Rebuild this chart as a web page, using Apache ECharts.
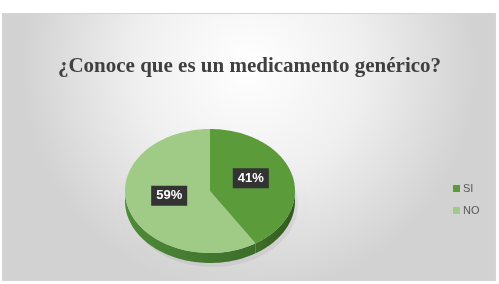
<!DOCTYPE html>
<html><head><meta charset="utf-8">
<script src="https://cdn.jsdelivr.net/npm/echarts@6/dist/echarts.min.js"></script>
<style>html,body{margin:0;padding:0;background:#fff}#c{width:499px;height:284px}</style>
</head><body><div id="c"></div>
<script>
var titleText = '¿Conoce que es un medicamento genérico?';
var categories = ['SI', 'NO'];
var values = [41, 59];
var labels = ['41%', '59%'];
var topColors = ['#5b9b3a', '#9fcb87'];
var sideColors = [['#3f6f28', '#2f5a1c'], ['#4f8a38', '#3c6d2a']];

var chart = echarts.init(document.getElementById('c'), null, {renderer: 'canvas'});
var total = values.reduce(function (a, b) { return a + b; }, 0);
var CX = 210, CY = 191, RX = 85, RY = 62, TH = 10;

function pt(a, dy) { return [CX + RX * Math.cos(a), CY + RY * Math.sin(a) + (dy || 0)]; }

function makeRender(idx) {
  return function (params, api) {
    var before = api.value(0), v = api.value(1);
    var a0 = -Math.PI / 2 + before / total * Math.PI * 2;
    var a1 = a0 + v / total * Math.PI * 2;
    var children = [];
    var s0 = Math.max(a0, 0), s1 = Math.min(a1, Math.PI);
    var ranges = [];
    if (s1 > s0) ranges.push([s0, s1]);
    var s2 = Math.max(a0, 2 * Math.PI), s3 = Math.min(a1, 3 * Math.PI);
    if (s3 > s2) ranges.push([s2, s3]);
    ranges.forEach(function (r) {
      var pts = [], n = 60, i;
      for (i = 0; i <= n; i++) pts.push(pt(r[0] + (r[1] - r[0]) * i / n, 0));
      for (i = n; i >= 0; i--) pts.push(pt(r[0] + (r[1] - r[0]) * i / n, TH));
      children.push({
        type: 'polygon', shape: {points: pts},
        style: {fill: new echarts.graphic.LinearGradient(0, 0, 1, 0, [
          {offset: 0, color: sideColors[idx][0]}, {offset: 1, color: sideColors[idx][1]}]), stroke: null}
      });
    });
    var top = [[CX, CY]], n2 = 120;
    for (var j = 0; j <= n2; j++) top.push(pt(a0 + (a1 - a0) * j / n2, 0));
    children.push({type: 'polygon', shape: {points: top}, style: {fill: topColors[idx], stroke: null}});
    var mid = (a0 + a1) / 2;
    var lp = [CX + RX * 0.5 * Math.cos(mid), CY + RY * 0.5 * Math.sin(mid) - 4];
    children.push({
      type: 'text', z2: 10,
      style: {
        text: labels[idx], x: lp[0], y: lp[1], align: 'center', verticalAlign: 'middle',
        fill: '#ffffff', font: 'bold 13px "Liberation Sans", sans-serif',
        backgroundColor: '#333333', padding: [4, 5, 3, 5]
      }
    });
    return {type: 'group', children: children};
  };
}

var series = categories.map(function (name, i) {
  var before = 0;
  for (var k = 0; k < i; k++) before += values[k];
  return {
    type: 'custom', name: name, coordinateSystem: 'none',
    itemStyle: {color: topColors[i]},
    data: [[before, values[i]]],
    renderItem: makeRender(i), z: i === 0 ? 3 : 2
  };
});

chart.setOption({
  backgroundColor: '#ffffff',
  animation: false,
  graphic: [
    {type: 'rect', z: -10, shape: {x: 2.5, y: 13.5, width: 493, height: 267},
     style: {fill: new echarts.graphic.RadialGradient(0.5, 0.2, 0.85, [
       {offset: 0, color: '#ffffff'}, {offset: 0.5, color: '#efefef'}, {offset: 1, color: '#d2d2d2'}]),
       stroke: '#d4d4d4', lineWidth: 1}},
    {type: 'ellipse', z: -5, shape: {cx: CX + 3, cy: CY + TH + 4, rx: RX, ry: RY},
     style: {fill: 'rgba(0,0,0,0.05)', shadowBlur: 8, shadowColor: 'rgba(0,0,0,0.12)'}}
  ],
  title: {
    text: titleText, left: 'center', top: 51,
    textStyle: {fontFamily: '"Liberation Serif", serif', fontWeight: 'bold', fontSize: 21, color: '#404040'}
  },
  legend: {
    orient: 'vertical', left: 448, top: 178, itemWidth: 7, itemHeight: 7, itemGap: 11,
    icon: 'rect', data: categories,
    textStyle: {fontFamily: '"Liberation Sans", sans-serif', fontSize: 11, color: '#595959', padding: [0, 0, 0, -2]}
  },
  series: series
});
</script></body></html>
